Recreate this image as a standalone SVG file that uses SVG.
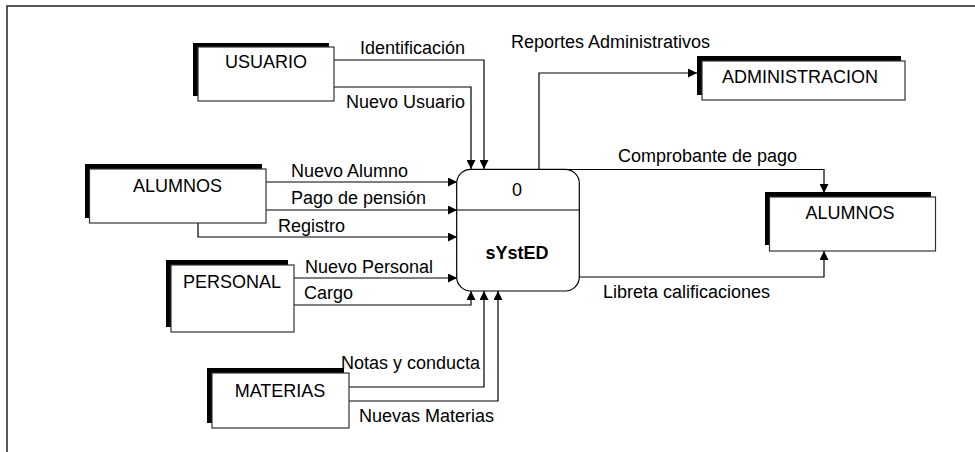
<svg xmlns="http://www.w3.org/2000/svg" width="975" height="452" viewBox="0 0 975 452">
<style>
text{font-family:"Liberation Sans",Arial,sans-serif;font-size:18px;fill:#000}
.ent text{text-anchor:middle}
.sh{fill:#000}
.box{fill:#fff;stroke:#333;stroke-width:1.2}
.c{fill:none;stroke:#000;stroke-width:1.2}
.frame{fill:none;stroke:#222;stroke-width:1.5}
</style>
<defs>
<marker id="ah" viewBox="0 0 10 10" refX="10" refY="5" markerWidth="9" markerHeight="9" markerUnits="userSpaceOnUse" orient="auto">
<path d="M0,0 L10,5 L0,10 z" fill="#000"/>
</marker>
</defs>
<rect width="975" height="452" fill="#fff"/>
<path class="frame" d="M7,452 V6 H975"/>

<g id="connectors">
<path class="c" d="M334,60 H484 V169" marker-end="url(#ah)"/>
<path class="c" d="M334,87 H471 V169" marker-end="url(#ah)"/>
<path class="c" d="M266,182 H457" marker-end="url(#ah)"/>
<path class="c" d="M266,210 H457" marker-end="url(#ah)"/>
<path class="c" d="M198,223 V237 H457" marker-end="url(#ah)"/>
<path class="c" d="M294,278 H457" marker-end="url(#ah)"/>
<path class="c" d="M294,305 H471 V291" marker-end="url(#ah)"/>
<path class="c" d="M349,387 H484 V291" marker-end="url(#ah)"/>
<path class="c" d="M349,401 H498 V291" marker-end="url(#ah)"/>
<path class="c" d="M539,169 V73 H697" marker-end="url(#ah)"/>
<path class="c" d="M562,169.5 H824 V193" marker-end="url(#ah)"/>
<path class="c" d="M579,277 H824 V251" marker-end="url(#ah)"/>
<text x="360" y="54">Identificación</text>
<text x="346" y="108">Nuevo Usuario</text>
<text x="291" y="177">Nuevo Alumno</text>
<text x="291" y="204">Pago de pensión</text>
<text x="278" y="232">Registro</text>
<text x="305" y="273">Nuevo Personal</text>
<text x="304" y="299">Cargo</text>
<text x="341" y="369">Notas y conducta</text>
<text x="359" y="422">Nuevas Materias</text>
<text x="511" y="48">Reportes Administrativos</text>
<text x="618" y="162">Comprobante de pago</text>
<text x="603" y="298">Libreta calificaciones</text>
</g>

<g id="process">
<rect x="456.7" y="169.3" width="122.6" height="121.7" rx="14" fill="#fff" stroke="#000" stroke-width="1.2"/>
<line x1="456.7" y1="210" x2="579.3" y2="210" stroke="#000" stroke-width="1.2"/>
<text x="517" y="196" text-anchor="middle">0</text>
<text x="517" y="259" text-anchor="middle" font-weight="bold">sYstED</text>
</g>

<g id="usuario" class="ent">
<rect class="sh" x="193" y="43" width="136" height="53"/>
<rect class="box" x="198" y="47" width="136" height="54"/>
<text x="266" y="68">USUARIO</text>
</g>

<g id="alumnos-in" class="ent">
<rect class="sh" x="85" y="164" width="177" height="54"/>
<rect class="box" x="89.5" y="169" width="176.5" height="54"/>
<text x="177.5" y="192">ALUMNOS</text>
</g>

<g id="personal" class="ent">
<rect class="sh" x="166" y="260" width="122" height="67"/>
<rect class="box" x="171" y="265" width="123" height="67"/>
<text x="232" y="288">PERSONAL</text>
</g>

<g id="materias" class="ent">
<rect class="sh" x="207" y="368" width="137" height="55"/>
<rect class="box" x="212" y="373" width="137" height="55"/>
<text x="280" y="397">MATERIAS</text>
</g>

<g id="administracion" class="ent">
<rect class="sh" x="697" y="56" width="204" height="39"/>
<rect class="box" x="702" y="61" width="203" height="39"/>
<text x="800" y="83">ADMINISTRACION</text>
</g>

<g id="alumnos-out" class="ent">
<rect class="sh" x="765" y="192" width="166" height="53"/>
<rect class="box" x="769.5" y="197" width="166" height="54"/>
<text x="850" y="219">ALUMNOS</text>
</g>
</svg>
